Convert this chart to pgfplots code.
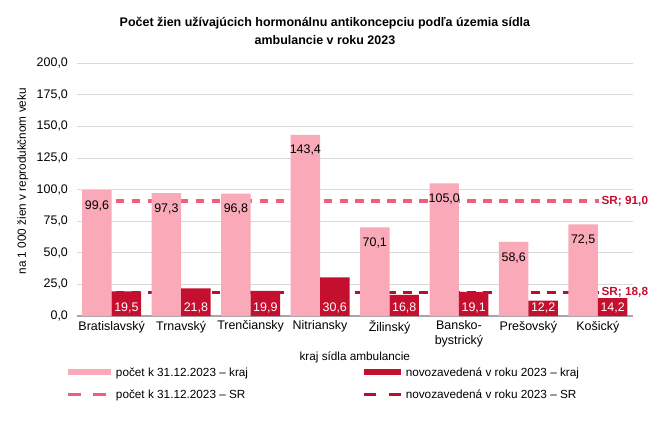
\documentclass[border=0pt]{standalone}
\usepackage{fontspec}
\setmainfont{Liberation Sans}
\usepackage{pgfplots}
\pgfplotsset{compat=1.18}

\definecolor{pinkbar}{HTML}{F9A9B8}
\definecolor{redbar}{HTML}{C50F2F}
\definecolor{pinkdash}{HTML}{EF5F7B}
\definecolor{reddash}{HTML}{B8102C}
\definecolor{gridgray}{HTML}{D9D9D9}

\begin{document}
\begin{tikzpicture}
\useasboundingbox (-55.4bp,-88.6bp) rectangle (412.5bp,227.5bp);
\begin{axis}[
    at={(0,0)}, anchor=south west,
    width=400bp, height=182bp, scale only axis,
    clip=false,
    xmin=-0.5, xmax=7.5,
    ymin=0, ymax=200,
    ytick={0,25,...,200},
    xtick={0,...,7},
    xticklabels={Bratislavský,Trnavský,Trenčiansky,Nitriansky,Žilinský,{Bansko-\\bystrický},Prešovský,Košický},
    xticklabel style={align=center, font=\fontsize{9}{10.5}\selectfont},
    yticklabel style={font=\fontsize{9}{10}\selectfont, xshift=-3bp},
    /pgf/number format/.cd, fixed, fixed zerofill, precision=1, use comma, 1000 sep={}, assume math mode=true,
    /pgfplots/.cd,
    axis x line*=bottom, axis y line*=left,
    x axis line style={draw=gray!70, line width=0.8pt},
    y axis line style={draw=none},
    tick style={draw=none},
    ymajorgrids, grid style={gridgray, line width=0.6pt},
    ylabel={na 1 000 žien v reprodukčnom veku},
    every axis y label/.style={at={(rel axis cs:0,0.5)}, rotate=90, anchor=center, yshift=39bp, xshift=6bp, font=\fontsize{8.5}{10}\selectfont},
    xlabel={kraj sídla ambulancie},
    every axis x label/.style={at={(rel axis cs:0.5,0)}, anchor=center, yshift=-29.5bp, font=\fontsize{8.5}{10}\selectfont},
    bar width=21.2bp,
    legend columns=2,
    legend cell align=left,
    legend style={at={(rel axis cs:0,0)}, anchor=north west, xshift=-8.6bp, yshift=-36bp,
        draw=none, fill=none, inner sep=0pt, row sep=8bp,
        font=\fontsize{8.5}{10}\selectfont,
        /tikz/column 2/.style={column sep=80bp},
        nodes={inner sep=1pt, text depth=0pt}},
]
% SR averages, drawn behind the bars
\addplot[pinkdash, line width=2.2bp, dash pattern=on 6bp off 5.5bp, forget plot]
    coordinates {(-0.4,91.0) (7.02,91.0)};
\addplot[reddash, line width=2.2bp, dash pattern=on 6bp off 5.5bp, forget plot]
    coordinates {(-0.4,18.8) (7.02,18.8)};

\addplot[ybar, fill=pinkbar, draw=none, bar shift=-10.6bp,
    nodes near coords={\pgfmathprintnumber{\pgfplotspointmeta}},
    every node near coord/.append style={anchor=north, xshift=-10.6bp, yshift=-4bp, text=black, font=\fontsize{9}{10}\selectfont},
    legend image code/.code={\draw[pinkbar, line width=4.5bp] (0bp,0bp) -- (31bp,0bp);}]
    coordinates {(0,99.6) (1,97.3) (2,96.8) (3,143.4) (4,70.1) (5,105.0) (6,58.6) (7,72.5)};
\addlegendentry{počet k 31.12.2023 – kraj}

\addplot[ybar, fill=redbar, draw=none, bar shift=10.6bp,
    visualization depends on=y \as \rawy,
    nodes near coords={\pgfmathprintnumber{\pgfplotspointmeta}},
    every node near coord/.append style={shift={(axis direction cs:0,-\rawy)}, anchor=south, xshift=10.6bp, yshift=-1.5bp, text=white, font=\fontsize{9}{10}\selectfont},
    legend image code/.code={\draw[redbar, line width=4.5bp] (0bp,0bp) -- (27bp,0bp);}]
    coordinates {(0,19.5) (1,21.8) (2,19.9) (3,30.6) (4,16.8) (5,19.1) (6,12.2) (7,14.2)};
\addlegendentry{novozavedená  v roku 2023 – kraj}

\addlegendimage{legend image code/.code={\draw[pinkdash, line width=2.2bp, dash pattern=on 9bp off 9bp] (0bp,0bp) -- (31bp,0bp);}}
\addlegendentry{počet k 31.12.2023 – SR}
\addlegendimage{legend image code/.code={\draw[reddash, line width=2.2bp, dash pattern=on 9bp off 9bp] (0bp,0bp) -- (27bp,0bp);}}
\addlegendentry{novozavedená  v roku 2023 – SR}

\node[anchor=west, text=redbar, font=\bfseries\fontsize{8.5}{10}\selectfont, inner sep=1pt] at (axis cs:7.03,91.0) {SR; 91,0};
\node[anchor=west, text=redbar, font=\bfseries\fontsize{8.5}{10}\selectfont, inner sep=1pt] at (axis cs:7.03,18.8) {SR; 18,8};
\end{axis}
\node[align=center, font=\bfseries\fontsize{9}{13}\selectfont] at (178.5bp,205bp)
    {Počet žien užívajúcich hormonálnu antikoncepciu podľa územia sídla\\ambulancie v roku 2023};
\end{tikzpicture}
\end{document}
